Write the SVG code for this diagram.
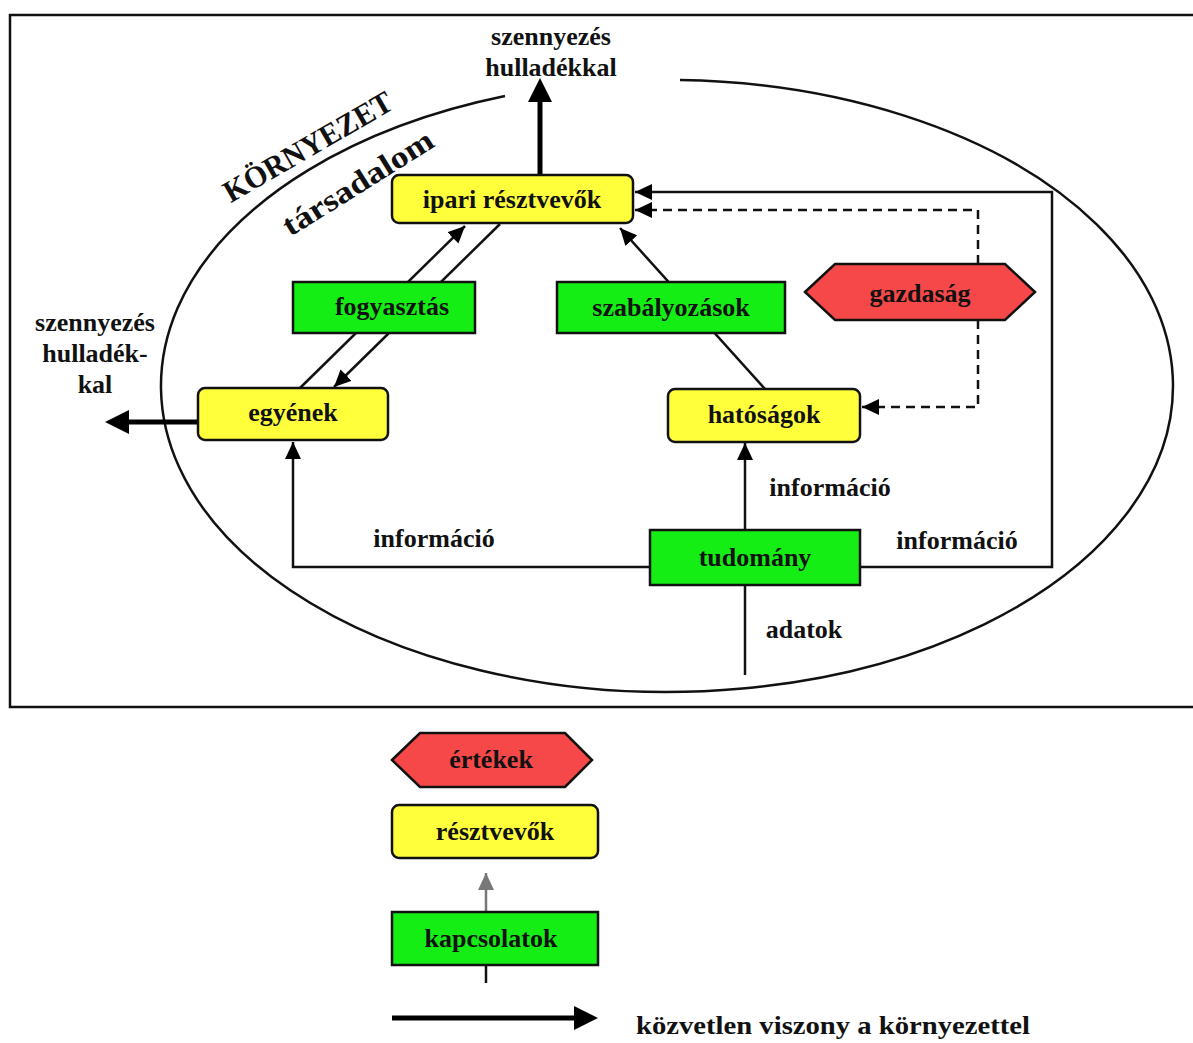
<svg xmlns="http://www.w3.org/2000/svg" width="1193" height="1043" viewBox="0 0 1193 1043">
<style>
.t{font-family:"Liberation Serif","Times New Roman",serif;font-weight:bold;font-size:26px;fill:#111;text-anchor:middle}
.box{stroke:#111;stroke-width:2.5}
.y{fill:#ffff3c}
.g{fill:#14ee14}
.r{fill:#f64848}
.ln{fill:none;stroke:#111;stroke-width:2.5}
.thick{fill:none;stroke:#000;stroke-width:5}
.dash{stroke-dasharray:9 6}
</style>
<defs>
<marker id="ah" markerUnits="userSpaceOnUse" markerWidth="18" markerHeight="16" refX="17" refY="8" orient="auto"><path d="M0,0 L17,8 L0,16 z" fill="#000"/></marker>
<marker id="ahg" markerUnits="userSpaceOnUse" markerWidth="18" markerHeight="16" refX="17" refY="8" orient="auto"><path d="M0,0 L17,8 L0,16 z" fill="#777"/></marker>
<marker id="ahb" markerUnits="userSpaceOnUse" markerWidth="26" markerHeight="24" refX="14" refY="12" orient="auto"><path d="M0,0 L24,12 L0,24 z" fill="#000"/></marker>
</defs>
<rect width="1193" height="1043" fill="#fff"/>
<g id="frame">
<path d="M1193 15 L10 15 L10 707 L1193 707" fill="none" stroke="#111" stroke-width="2.5"/>
<path d="M680 80 A506 306 0 1 1 505 96" fill="none" stroke="#111" stroke-width="2.5"/>
<text class="t" style="font-size:31px;font-weight:900" transform="translate(308,147) rotate(-30)" x="0" y="10" textLength="190" lengthAdjust="spacingAndGlyphs">KÖRNYEZET</text>
<text class="t" style="font-size:31px;font-weight:900" transform="translate(358,183) rotate(-32)" x="0" y="10" textLength="172" lengthAdjust="spacingAndGlyphs">társadalom</text>
</g>
<g id="connectors">
<path class="thick" d="M540 175 L540 88" marker-end="url(#ahb)"/>
<path class="thick" d="M198 422 L115 422" marker-end="url(#ahb)"/>
<path class="ln" d="M300 388 L465 226" marker-end="url(#ah)"/>
<path class="ln" d="M500 224 L334 387" marker-end="url(#ah)"/>
<path class="ln" d="M765 389 L620 228" marker-end="url(#ah)"/>
<path class="ln" d="M745 530 L745 443" marker-end="url(#ah)"/>
<path class="ln" d="M650 567 L293 567 L293 442" marker-end="url(#ah)"/>
<path class="ln" d="M860 567 L1052 567 L1052 192 L635 192" marker-end="url(#ah)"/>
<path class="ln dash" d="M978 264 L978 210 L635 210" marker-end="url(#ah)"/>
<path class="ln dash" d="M978 320 L978 407 L862 407" marker-end="url(#ah)"/>
<path class="ln" d="M745 675 L745 585"/>
<path class="ln" d="M486 912 L486 873" style="stroke:#777" marker-end="url(#ahg)"/>
<path class="ln" d="M486 965 L486 983"/>
<path class="thick" d="M392 1018 L588 1018" marker-end="url(#ahb)"/>
</g>
<g id="ipari"><rect class="box y" x="392" y="175" width="241" height="48" rx="7"/><text class="t" x="512" y="208">ipari résztvevők</text></g>
<g id="fogyasztas"><rect class="box g" x="293" y="282" width="182" height="51"/><text class="t" x="392" y="315">fogyasztás</text></g>
<g id="szabalyozasok"><rect class="box g" x="557" y="282" width="228" height="51"/><text class="t" x="671" y="316">szabályozások</text></g>
<g id="gazdasag"><polygon class="box r" points="805,292 835,264 1005,264 1035,292 1005,320 835,320"/><text class="t" x="920" y="302">gazdaság</text></g>
<g id="egyenek"><rect class="box y" x="198" y="388" width="190" height="52" rx="7"/><text class="t" x="293" y="421">egyének</text></g>
<g id="hatosagok"><rect class="box y" x="668" y="389" width="192" height="53" rx="7"/><text class="t" x="764" y="423">hatóságok</text></g>
<g id="tudomany"><rect class="box g" x="650" y="530" width="210" height="55"/><text class="t" x="755" y="566">tudomány</text></g>
<g id="labels">
<text class="t" x="551" y="45">szennyezés</text>
<text class="t" x="551" y="76">hulladékkal</text>
<text class="t" x="95" y="331">szennyezés</text>
<text class="t" x="95" y="362">hulladék-</text>
<text class="t" x="95" y="393">kal</text>
<text class="t" x="434" y="547">információ</text>
<text class="t" x="830" y="496">információ</text>
<text class="t" x="957" y="549">információ</text>
<text class="t" x="804" y="638">adatok</text>
</g>
<g id="legend">
<g id="ertekek"><polygon class="box r" points="392,760 420,733 565,733 592,760 565,787 420,787"/><text class="t" x="491" y="768">értékek</text></g>
<g id="resztvevok"><rect class="box y" x="392" y="805" width="206" height="53" rx="7"/><text class="t" x="495" y="840">résztvevők</text></g>
<g id="kapcsolatok"><rect class="box g" x="392" y="912" width="206" height="53"/><text class="t" x="491" y="947">kapcsolatok</text></g>
<text class="t" x="636" y="1034" style="text-anchor:start" textLength="394" lengthAdjust="spacingAndGlyphs">közvetlen viszony a környezettel</text>
</g>
</svg>
